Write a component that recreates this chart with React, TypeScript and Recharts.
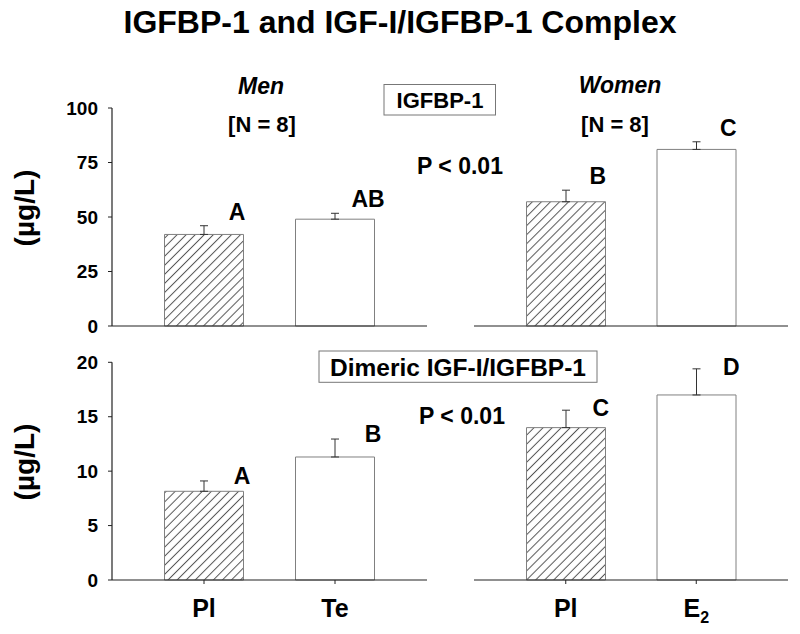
import { ComposedChart, Bar, Cell, XAxis, YAxis, ErrorBar, Line, LabelList } from "recharts";

const FONT = '"Liberation Sans", Arial, sans-serif';

const menCats = ["Pl", "Te"];
const womenCats = ["Pl", "E2"];

const bp1Men = [42, 49];
const bp1MenSem = [4, 2.7];
const bp1MenLetters = ["A", "AB"];
const bp1Women = [57, 81];
const bp1WomenSem = [5.3, 3.5];
const bp1WomenLetters = ["B", "C"];

const dimMen = [8.15, 11.3];
const dimMenSem = [0.95, 1.65];
const dimMenLetters = ["A", "B"];
const dimWomen = [14, 17];
const dimWomenSem = [1.6, 2.4];
const dimWomenLetters = ["C", "D"];

const bp1Ticks = [0, 25, 50, 75, 100];
const dimTicks = [0, 5, 10, 15, 20];

const build = (cats: string[], vals: number[], sem: number[], letters: string[]) =>
  cats.map((c, i) => ({
    cat: c,
    value: vals[i],
    sem: [0, sem[i]],
    top: vals[i] + sem[i],
    letter: letters[i],
  }));

const letterLabel = (dx: number, dy: number) => (props: any) => {
  const { x, y, value } = props;
  return (
    <text
      x={x + dx}
      y={y + dy}
      textAnchor="middle"
      dominantBaseline="central"
      fontSize={23}
      fontWeight={700}
      fontFamily={FONT}
      fill="#000"
    >
      {value}
    </text>
  );
};

const CatTick = (props: any) => {
  const { x, y, payload } = props;
  const v = payload.value;
  return (
    <text x={x} y={y + 31} textAnchor="middle" fontSize={25} fontWeight={700} fontFamily={FONT} fill="#000">
      {v === "E2" ? (
        <>
          <tspan>E</tspan>
          <tspan fontSize={16} dy={6}>2</tspan>
        </>
      ) : (
        v
      )}
    </text>
  );
};

interface PanelProps {
  data: ReturnType<typeof build>;
  ticks: number[];
  left: number;
  top: number;
  width: number;
  height: number;
  margin: { top: number; right: number; bottom: number; left: number };
  showY: boolean;
  showX: boolean;
  letterDx: number;
  letterDy: number;
}

function Panel({ data, ticks, left, top, width, height, margin, showY, showX, letterDx, letterDy }: PanelProps) {
  const domain = [0, ticks[ticks.length - 1]];
  return (
    <div style={{ position: "absolute", left, top }}>
      <ComposedChart width={width} height={height} data={data} margin={margin}>
        <XAxis
          dataKey="cat"
          padding={{ left: 26.5, right: 26.5 }}
          axisLine={{ stroke: "#222", strokeWidth: 1.2 }}
          tickLine={{ stroke: "#222" }}
          tickSize={4}
          height={showX ? 40 : 10}
          tick={showX ? <CatTick /> : false}
        />
        {showY ? (
          <YAxis
            domain={domain}
            ticks={ticks}
            width={52}
            tickSize={4}
            tickMargin={10}
            axisLine={{ stroke: "#222", strokeWidth: 1.2 }}
            tickLine={{ stroke: "#222" }}
            tick={{ fontSize: 19, fontWeight: 700, fill: "#000", fontFamily: FONT }}
          />
        ) : (
          <YAxis hide domain={domain} ticks={ticks} />
        )}
        <Bar dataKey="value" barSize={79} stroke="#808080" strokeWidth={1} isAnimationActive={false}>
          {data.map((d, i) => (
            <Cell key={d.cat + i} fill={i === 0 ? "url(#hatch)" : "#fff"} />
          ))}
          <ErrorBar dataKey="sem" direction="y" width={4} stroke="#333" strokeWidth={1} />
        </Bar>
        <Line dataKey="top" stroke="none" dot={false} activeDot={false} isAnimationActive={false}>
          <LabelList dataKey="letter" content={letterLabel(letterDx, letterDy)} />
        </Line>
      </ComposedChart>
    </div>
  );
}

export default function App() {
  const txt = { fontFamily: FONT, fontWeight: 700, fill: "#000" } as const;
  return (
    <div style={{ position: "absolute", left: 0, top: 0, width: 800, height: 634, background: "#fff", overflow: "hidden" }}>
      <svg width={0} height={0} style={{ position: "absolute" }}>
        <defs>
          <pattern id="hatch" patternUnits="userSpaceOnUse" width={6.4} height={6.4} patternTransform="rotate(45)">
            <rect width={6.4} height={6.4} fill="#fff" />
            <line x1={3.2} y1={0} x2={3.2} y2={6.4} stroke="#555" strokeWidth={1} />
          </pattern>
        </defs>
      </svg>

      <Panel
        data={build(menCats, bp1Men, bp1MenSem, bp1MenLetters)}
        ticks={bp1Ticks}
        left={0}
        top={0}
        width={430}
        height={340}
        margin={{ top: 108, right: 3, bottom: 4, left: 60 }}
        showY
        showX={false}
        letterDx={33}
        letterDy={-14}
      />
      <Panel
        data={build(womenCats, bp1Women, bp1WomenSem, bp1WomenLetters)}
        ticks={bp1Ticks}
        left={440}
        top={0}
        width={360}
        height={340}
        margin={{ top: 108, right: 12, bottom: 4, left: 34 }}
        showY={false}
        showX={false}
        letterDx={32}
        letterDy={-14}
      />
      <Panel
        data={build(menCats, dimMen, dimMenSem, dimMenLetters)}
        ticks={dimTicks}
        left={0}
        top={300}
        width={430}
        height={334}
        margin={{ top: 62.3, right: 3, bottom: 14, left: 60 }}
        showY
        showX
        letterDx={38}
        letterDy={-5}
      />
      <Panel
        data={build(womenCats, dimWomen, dimWomenSem, dimWomenLetters)}
        ticks={dimTicks}
        left={440}
        top={300}
        width={360}
        height={334}
        margin={{ top: 62.3, right: 12, bottom: 14, left: 34 }}
        showY={false}
        showX
        letterDx={35}
        letterDy={-2}
      />

      <svg width={800} height={634} style={{ position: "absolute", left: 0, top: 0, pointerEvents: "none" }}>
        <text x={400} y={33} textAnchor="middle" fontSize={32} {...txt}>
          IGFBP-1 and IGF-I/IGFBP-1 Complex
        </text>
        <text x={24} y={208} transform="rotate(-90 24 208)" textAnchor="middle" dominantBaseline="central" fontSize={28} {...txt}>
          (µg/L)
        </text>
        <text x={24} y={462} transform="rotate(-90 24 462)" textAnchor="middle" dominantBaseline="central" fontSize={28} {...txt}>
          (µg/L)
        </text>
        <text x={261} y={86} textAnchor="middle" dominantBaseline="central" fontSize={23} fontStyle="italic" {...txt}>
          Men
        </text>
        <text x={262} y={124} textAnchor="middle" dominantBaseline="central" fontSize={22} {...txt}>
          [N = 8]
        </text>
        <text x={620} y={85} textAnchor="middle" dominantBaseline="central" fontSize={23} fontStyle="italic" {...txt}>
          Women
        </text>
        <text x={615} y={124} textAnchor="middle" dominantBaseline="central" fontSize={22} {...txt}>
          [N = 8]
        </text>
        <rect x={384} y={84.5} width={111.5} height={30.5} fill="#fff" stroke="#777" strokeWidth={1} />
        <text x={440} y={100} textAnchor="middle" dominantBaseline="central" fontSize={22} {...txt}>
          IGFBP-1
        </text>
        <text x={460} y={166} textAnchor="middle" dominantBaseline="central" fontSize={23} {...txt}>
          P &lt; 0.01
        </text>
        <rect x={319} y={351} width={278} height={31.3} fill="#fff" stroke="#777" strokeWidth={1} />
        <text x={458} y={367} textAnchor="middle" dominantBaseline="central" fontSize={24.5} {...txt}>
          Dimeric IGF-I/IGFBP-1
        </text>
        <text x={462} y={416} textAnchor="middle" dominantBaseline="central" fontSize={23} {...txt}>
          P &lt; 0.01
        </text>
      </svg>
    </div>
  );
}
